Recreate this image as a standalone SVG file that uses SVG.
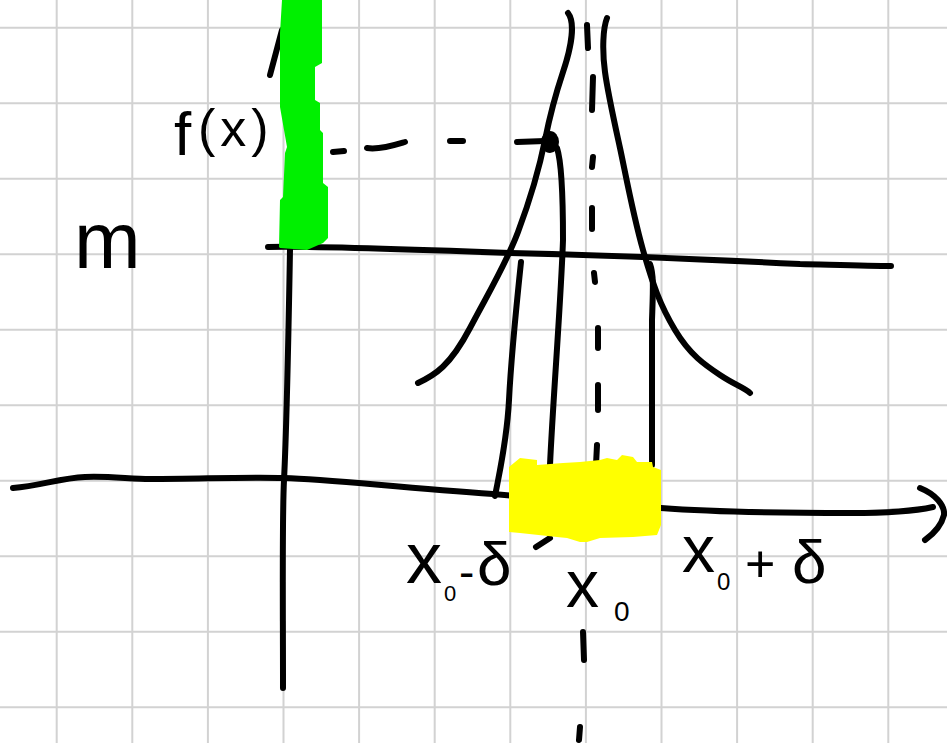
<svg xmlns="http://www.w3.org/2000/svg" width="947" height="743" viewBox="0 0 947 743">
<style>
.grid{stroke:#d2d2d2;stroke-width:2;fill:none}
.ink{stroke:#000;stroke-width:6;fill:none;stroke-linecap:round;stroke-linejoin:round}
.lbl{font-family:"Liberation Sans",Arial,sans-serif;fill:#000}
</style>
<rect width="947" height="743" fill="#fff"/>
<g id="grid" class="grid">
<path d="M56.7,0V743M132.3,0V743M207.9,0V743M283.5,0V743M359.1,0V743M434.7,0V743M510.3,0V743M585.9,0V743M661.5,0V743M737.1,0V743M812.7,0V743M888.3,0V743"/>
<path d="M0,27.8H947M0,103.3H947M0,178.8H947M0,254.3H947M0,329.8H947M0,405.3H947M0,480.8H947M0,556.3H947M0,631.8H947M0,707.3H947"/>
</g>
<g id="axes" class="ink">
<path d="M13,488 C40,486 60,478 85,477 C110,476 130,479 150,479 C200,479 240,477 284,478 C330,479 400,488 493,494 L661,508 C700,511 760,513 850,513 C890,513 915,511 933,507"/>
<path d="M920,488 C935,494 945,505 944,515 C941,527 932,535 925,540"/>
<path d="M283,688 C283,600 282,520 284,480 C287,420 288,360 290,250 L292,5"/>
<path d="M270,75 L282,30"/>
<path d="M268,247 C300,246 400,249 510,253 C600,255 700,259 800,264 C840,265 870,266 891,266"/>
</g>
<g id="curve" class="ink">
<path d="M568,13 C575,22 572,45 563,72 S550,115 545,140 S530,200 518,232 S490,290 470,328 S435,375 418,383"/>
<path d="M607,18 C603,28 602,50 605,72 S615,125 620,148 S633,215 643,250 S660,305 675,330 S705,365 720,375 S745,388 750,393"/>
</g>
<g id="verticals" class="ink">
<path d="M521,262 C517,300 511,360 509,400 S500,470 495,496"/>
<path d="M557,148 C561,160 563,200 563,240 C561,300 553,400 550,465"/>
<path d="M650,264 C654,275 653,290 652,320 L652,465"/>
</g>
<g id="dashes" class="ink">
<path d="M587,25 L588,48 M593,77 L592,110 M593,157 L592,167 M592,208 L592,229 M594,273 L595,282 M598,328 L598,348 M598,385 L598,410 M597,445 L596,465 M536,547 L550,538 M583,632 L584,660 M580,727 L579,740"/>
<path d="M333,152 L344,151 M367,148 C380,150 395,145 405,142 M450,141 L463,141 M517,142 L545,141"/>
<ellipse cx="550" cy="142" rx="9" ry="11" fill="#000" stroke="none"/>
</g>
<g id="highlights">
<polygon fill="#00f000" points="282,0 322,0 322,63 315,67 315,100 320,103 320,130 323,133 323,183 328,187 328,238 323,243 307,250 280,248 279,247 280,200 283,197 285,153 287,147 280,107 280,33"/>
<polygon fill="#ffff00" points="509,467 520,458 537,460 537,465 563,463 580,462 600,460 607,458 617,460 622,455 633,457 637,462 652,462 653,467 661,470 661,525 657,535 633,537 600,538 587,542 580,542 567,538 557,537 520,533 509,532"/>
</g>
<g id="labels">
<text id="label-fx" class="lbl"><tspan x="174" y="155" font-size="62">f</tspan><tspan x="198" y="146" font-size="52" letter-spacing="5">(x)</tspan></text>
<text id="label-m" class="lbl" x="74" y="268" font-size="80">m</text>
<text id="label-x0-minus" class="lbl"><tspan x="406" y="583" font-size="72">x</tspan><tspan x="444" y="601" font-size="22">0</tspan><tspan x="459" y="588" font-size="46">-</tspan><tspan x="477" y="585" font-size="62">δ</tspan></text>
<text id="label-x0" class="lbl"><tspan x="566" y="607" font-size="66">x</tspan><tspan x="614" y="621" font-size="28">0</tspan></text>
<text id="label-x0-plus" class="lbl"><tspan x="682" y="572" font-size="66">x</tspan><tspan x="717" y="590" font-size="24">0</tspan><tspan x="745" y="582" font-size="52">+</tspan><tspan x="792" y="583" font-size="62">δ</tspan></text>
</g>
</svg>
